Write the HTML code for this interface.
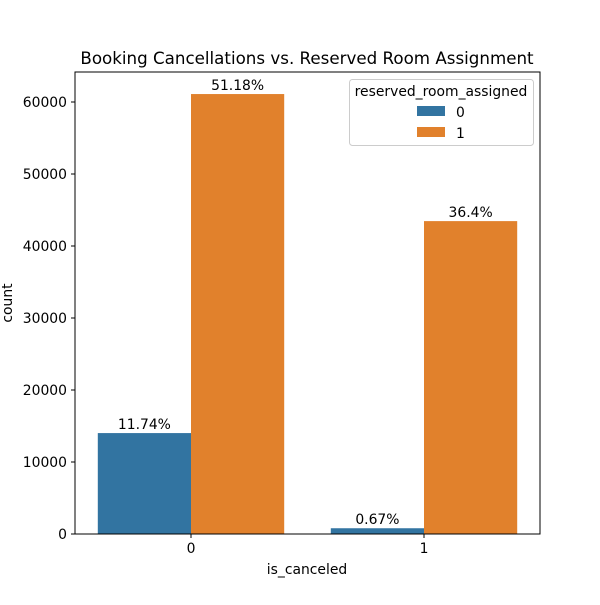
<!DOCTYPE html>
<html><head><meta charset="utf-8"><style>
body{margin:0;background:#fff;}
svg text{font-family:"DejaVu Sans","Liberation Sans",sans-serif;}
</style></head><body>
<svg id="chart" width="600" height="600" xmlns="http://www.w3.org/2000/svg">
<rect width="600" height="600" fill="#fff"/>
<text x="307" y="64" font-size="16.7" text-anchor="middle">Booking Cancellations vs. Reserved Room Assignment</text>
<g id="bars"></g>
<g id="yaxis"></g>
<g id="xaxis"></g>
<rect x="75" y="72" width="465" height="462" fill="none" stroke="#000" stroke-width="1"/>
<text x="12" y="303" font-size="13.9" text-anchor="middle" transform="rotate(-90 12 303)">count</text>
<text x="307" y="574" font-size="13.9" text-anchor="middle">is_canceled</text>
<g>
<rect x="349.5" y="79.5" width="184" height="66" rx="3" fill="#fff" stroke="#ccc"/>
<text x="441" y="96" font-size="13.9" text-anchor="middle">reserved_room_assigned</text>
<rect x="417" y="106" width="28" height="10" fill="#3274a1"/>
<text x="456" y="117" font-size="13.9">0</text>
<rect x="417" y="127" width="28" height="10" fill="#e1812c"/>
<text x="456" y="138" font-size="13.9">1</text>
</g>
</svg>
<script>
const categories=["0","1"];
const series0=[14017,800];
const series1=[61104,43457];
const labels0=["11.74%","0.67%"];
const labels1=["51.18%","36.4%"];
const yTicks=[0,10000,20000,30000,40000,50000,60000];
const colors=["#3274a1","#e1812c"];
const NS="http://www.w3.org/2000/svg";
function y(v){return 534-v*462/64167;}
function xc(i){return 191+i*233;}
function mk(t,a,p){const e=document.createElementNS(NS,t);for(const k in a)e.setAttribute(k,a[k]);p.appendChild(e);return e;}
const bars=document.getElementById('bars');
[series0,series1].forEach((s,si)=>{
  s.forEach((v,i)=>{
    const x=xc(i)-93.2+si*93.2;
    const r=mk('rect',{x:x,y:y(v),width:93.2,height:534-y(v),fill:colors[si]},bars);
    
    
    const t=mk('text',{x:x+46.6,y:y(v)-4,'font-size':13.9,'text-anchor':'middle'},bars);
    t.textContent=(si?labels1:labels0)[i];
    
    
  });
});
const ya=document.getElementById('yaxis');
yTicks.forEach(v=>{
  const l=mk('line',{x1:71,x2:75,y1:y(v),y2:y(v),stroke:'#000'},ya);
  
  
  const t=mk('text',{x:67,y:y(v)+5,'font-size':13.9,'text-anchor':'end'},ya);
  t.textContent=v;
  
  
});
const xa=document.getElementById('xaxis');
categories.forEach((c,i)=>{
  const l=mk('line',{x1:xc(i),x2:xc(i),y1:534,y2:538,stroke:'#000'},xa);
  
  
  const t=mk('text',{x:xc(i),y:553,'font-size':13.9,'text-anchor':'middle'},xa);
  t.textContent=c;
  
  
});
</script>
</body></html>
